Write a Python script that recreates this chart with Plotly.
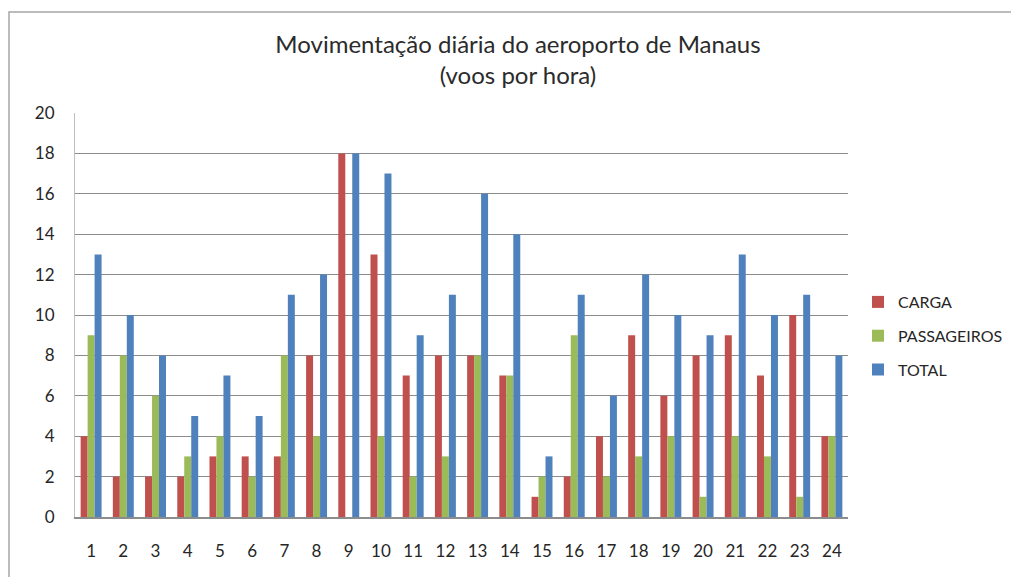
import plotly.graph_objects as go

horas = [str(h) for h in range(1, 25)]
carga = [4, 2, 2, 2, 3, 3, 3, 8, 18, 13, 7, 8, 8, 7, 1, 2, 4, 9, 6, 8, 9, 7, 10, 4]
passageiros = [9, 8, 6, 3, 4, 2, 8, 4, 0, 4, 2, 3, 8, 7, 2, 9, 2, 3, 4, 1, 4, 3, 1, 4]
total = [13, 10, 8, 5, 7, 5, 11, 12, 18, 17, 9, 11, 16, 14, 3, 11, 6, 12, 10, 9, 13, 10, 11, 8]
y_ticks = list(range(0, 21, 2))

# page has an 8px body margin; the figure is placed to compensate
OFF = 8
W, H = 1019 - OFF, 577 - OFF
L, T = 75 - OFF, 113 - OFF
pw, ph = 848 - 75, 517 - 113
R = W - L - pw
B = H - T - ph

font = "Lato, 'Open Sans', sans-serif"

fig = go.Figure()
series = [("CARGA", carga, "#C0504D"), ("PASSAGEIROS", passageiros, "#9BBB59"), ("TOTAL", total, "#4F81BD")]
for name, vals, col in series:
    fig.add_trace(go.Bar(x=horas, y=vals, name=name, marker=dict(color=col, line=dict(width=0)),
                         legendgroup=name))

def px_x(x):  # page px -> paper x
    return (x - OFF - L) / pw

def px_y(y):  # page px -> paper y
    return 1 - (y - OFF - T) / ph

fig.update_layout(
    width=W, height=H,
    margin=dict(l=L, r=R, t=T, b=B, autoexpand=False),
    paper_bgcolor="white", plot_bgcolor="white",
    font=dict(family=font, size=16, color="#262626"),
    barmode="group", bargap=0.35, bargroupgap=0,
    title=dict(text="Movimentação diária do aeroporto de Manaus<br>(voos por hora)",
               x=px_x(518), xref="paper", xanchor="center",
               y=1 - (53 - OFF) / H, yref="container", yanchor="middle",
               font=dict(family=font, size=24, color="#2b2b2b")),
    xaxis=dict(type="category", showgrid=False, showline=True, linecolor="#8c8c8c", linewidth=1.5,
               ticks="", tickfont=dict(size=17), ticklabelstandoff=18),
    yaxis=dict(range=[0, 20], tickvals=y_ticks, showgrid=True, gridcolor="#8c8c8c", gridwidth=1,
               showline=True, linecolor="#bfbfbf", linewidth=1, zeroline=False,
               ticks="", tickfont=dict(size=17), ticklabelstandoff=16),
    legend=dict(x=px_x(858), xanchor="left", y=px_y(285), yanchor="top",
                font=dict(size=16), tracegroupgap=10, itemwidth=30, bgcolor="rgba(0,0,0,0)"),
    shapes=[dict(type="rect", xref="paper", yref="paper",
                 x0=px_x(9), x1=px_x(1040),
                 y0=px_y(12), y1=px_y(600),
                 line=dict(color="#a6a6a6", width=1.5))],
)

fig.write_html("out.html")
